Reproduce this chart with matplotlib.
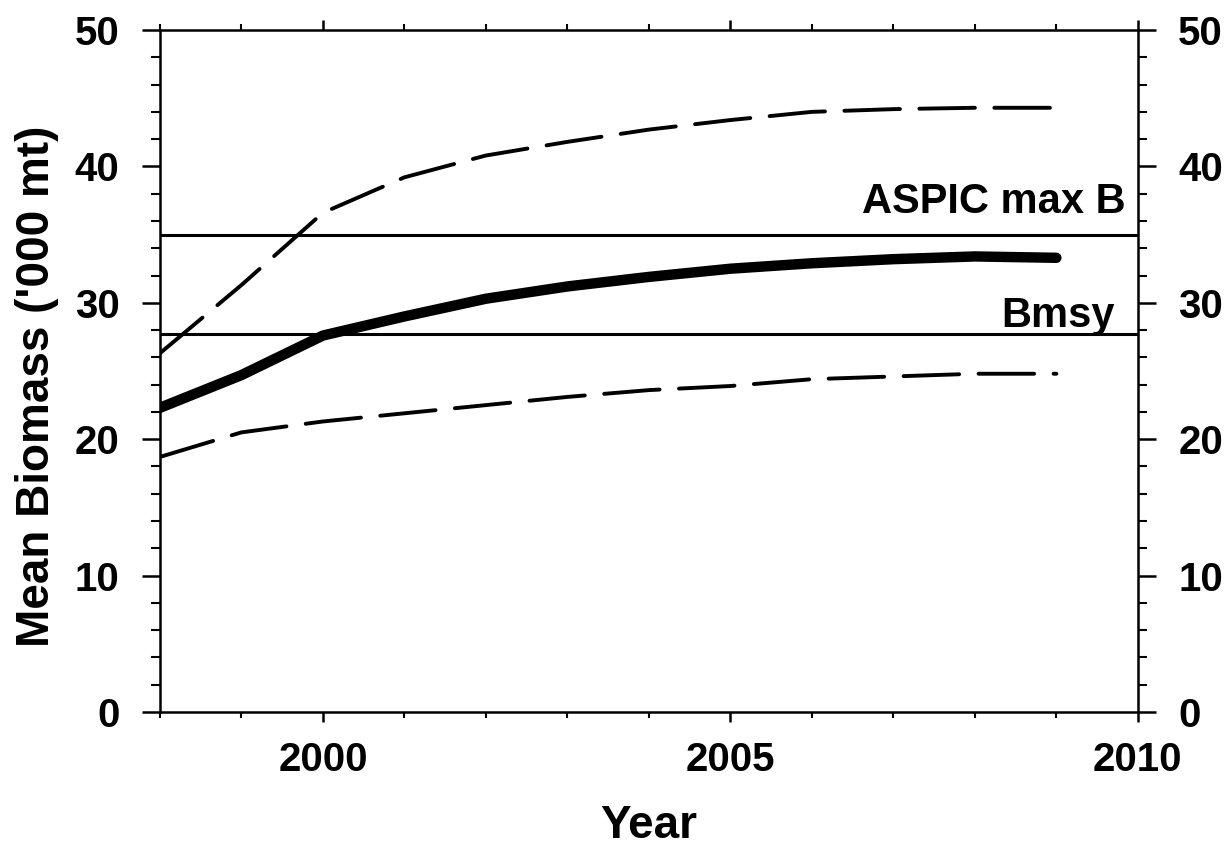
import matplotlib
matplotlib.use("Agg")
import matplotlib.pyplot as plt
from matplotlib.ticker import MultipleLocator

plt.rcParams['font.family'] = ['Liberation Sans', 'DejaVu Sans']
plt.rcParams['font.weight'] = 'bold'
plt.rcParams['lines.scale_dashes'] = False

years = [1998, 1999, 2000, 2001, 2002, 2003, 2004, 2005, 2006, 2007, 2008, 2009]
mean_biomass = [22.3, 24.7, 27.6, 29.0, 30.3, 31.2, 31.9, 32.5, 32.9, 33.2, 33.4, 33.3]
upper_bound = [26.3, 31.3, 36.6, 39.2, 40.8, 41.8, 42.7, 43.4, 44.0, 44.2, 44.3, 44.3]
lower_bound = [18.7, 20.5, 21.3, 21.9, 22.5, 23.1, 23.6, 23.9, 24.4, 24.6, 24.8, 24.8]
aspic_max_b = 35.0
bmsy = 27.7

fig = plt.figure(figsize=(12.3, 8.46), dpi=100)
ax = fig.add_axes([0.130, 0.1584, 0.7951, 0.8061])

ax.plot(years, mean_biomass, color='black', lw=7.5, solid_capstyle='round',
        solid_joinstyle='round')
for series in (upper_bound, lower_bound):
    ax.plot(years, series, color='black', lw=2.8, dashes=(40, 14),
            dash_capstyle='round')
ax.axhline(aspic_max_b, color='black', lw=2.2)
ax.axhline(bmsy, color='black', lw=2.2)

ax.text(2009.85, aspic_max_b + 1.6, 'ASPIC max B', ha='right', va='baseline',
        fontsize=30, fontweight='bold')
ax.text(2009.72, bmsy + 0.55, 'Bmsy', ha='right', va='baseline',
        fontsize=30, fontweight='bold')

ax.set_xlim(1998, 2010)
ax.set_ylim(0, 50)
ax.xaxis.set_major_locator(MultipleLocator(5))
ax.xaxis.set_minor_locator(MultipleLocator(1))
ax.yaxis.set_major_locator(MultipleLocator(10))
ax.yaxis.set_minor_locator(MultipleLocator(2))

for s in ax.spines.values():
    s.set_linewidth(1.8)

ax.tick_params(axis='x', which='major', direction='out', length=7, width=1.8,
               top=True, labelsize=29, pad=14)
ax.tick_params(axis='x', which='minor', direction='out', length=4.5, width=1.5, top=True)
ax.tick_params(axis='y', which='major', direction='out', length=13, width=1.8,
               right=True, labelright=True, labelsize=29, pad=16)
ax.tick_params(axis='y', which='minor', direction='out', length=6.5, width=1.5, right=True)

for lab in ax.get_xticklabels() + ax.get_yticklabels():
    lab.set_fontweight('bold')

ax.set_xlabel('Year', fontsize=33, fontweight='bold', labelpad=18)
ax.set_ylabel("Mean Biomass ('000 mt)", fontsize=33, fontweight='bold')
ax.yaxis.set_label_coords(-0.103, 0.478)

fig.savefig('out.png', dpi=100)
